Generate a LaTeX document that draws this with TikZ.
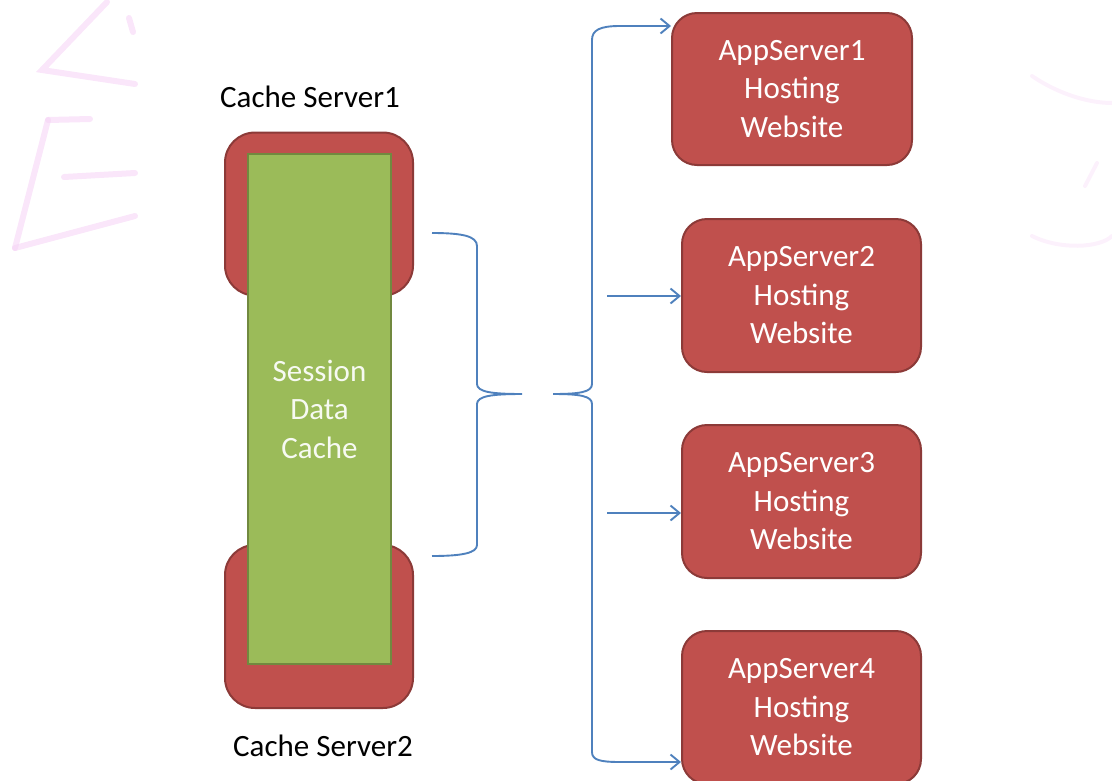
\documentclass[tikz,border=0pt]{standalone}
\usepackage{fontspec}
\setmainfont{Carlito}
\usetikzlibrary{arrows.meta}
\definecolor{boxred}{HTML}{C0504D}
\definecolor{boxredline}{HTML}{8C3A38}
\definecolor{boxgreen}{HTML}{9BBB59}
\definecolor{boxgreenline}{HTML}{71893F}
\definecolor{linkblue}{HTML}{4F81BD}
\definecolor{wmpink}{HTML}{F5D2F5}
\begin{document}
\begin{tikzpicture}[x=1pt,y=-1pt,
  txt/.style={font=\fontsize{31}{38.5}\selectfont, align=center},
  appbox/.style={txt, draw=boxredline, line width=2pt, fill=boxred, rounded corners=25pt,
    text=white, inner sep=0pt, minimum width=239pt, minimum height=153pt},
  cachebox/.style={draw=boxredline, line width=2pt, fill=boxred, rounded corners=30pt,
    inner sep=0pt, minimum width=188pt, minimum height=163pt},
  greenbox/.style={txt, draw=boxgreenline, line width=2.5pt, fill=boxgreen, text=white!92!boxgreen,
    inner sep=0pt, minimum width=143pt, minimum height=510pt},
  label/.style={txt, text=black},
  link/.style={draw=linkblue, line width=1.9pt},
  arrow/.style={link, -{Straight Barb[length=9pt,width=15pt,line width=1.9pt]}},
  wm/.style={draw=wmpink, line width=6pt, line cap=round, opacity=0.55}
]
\useasboundingbox (0,0) rectangle (1112,780);
% faint watermark strokes
\draw[wm] (107,2) -- (42,70) -- (135,84);
\draw[wm] (129,18) -- (133,32);
\draw[wm] (48,120) -- (90,119);
\draw[wm] (48,120) -- (15,248);
\draw[wm] (64,177) -- (135,173);
\draw[wm] (15,248) -- (135,216);
\draw[wm, line width=4pt, opacity=0.3] (1032,76) .. controls (1060,95) and (1090,103) .. (1112,103);
\draw[wm, line width=4pt, opacity=0.3] (1085,186) -- (1097,163);
\draw[wm, line width=4pt, opacity=0.3] (1032,236) .. controls (1060,250) and (1100,248) .. (1112,236);

% cache servers
\node[cachebox] (cs1) at (319,214) {};
\node[cachebox] (cs2) at (319,626.5) {};
\node[greenbox] (cache) at (319.5,409) {Session\\Data\\Cache};
\node[label] (cs1lbl) at (310,97) {Cache Server1};
\node[label] (cs2lbl) at (323,746) {Cache Server2};

% app servers
\node[appbox, minimum width=240pt, minimum height=152pt] (as1) at (792,89) {AppServer1\\Hosting\\Website};
\node[appbox] (as2) at (801.5,295.5) {AppServer2\\Hosting\\Website};
\node[appbox] (as3) at (801.5,501.5) {AppServer3\\Hosting\\Website};
\node[appbox] (as4) at (801.5,707.5) {AppServer4\\Hosting\\Website};

% braces
\coordinate (b1t) at (432,233);
\coordinate (b1b) at (432,556);
\coordinate (b1m) at (522,394);
\coordinate (b2m) at (553,394);
\coordinate (top) at (620,26);
\coordinate (bot) at (620,762);
\coordinate (a2) at (607,296);
\coordinate (a3) at (607,513);

\draw[link] (b1t) .. controls (462,233) and (477,236) .. (477,246) -- (477,384)
  .. controls (477,392) and (492,394) .. (b1m)
  .. controls (492,394) and (477,396) .. (477,404) -- (477,545)
  .. controls (477,553) and (462,556) .. (b1b);
\draw[arrow] (b2m) .. controls (580,394) and (592,392) .. (592,384) -- (592,40)
  .. controls (592,30) and (600,26) .. (top) -- (as1.west |- top);
\draw[arrow] (b2m) .. controls (580,394) and (592,396) .. (592,404) -- (592,752)
  .. controls (592,760) and (600,762) .. (bot) -- (as4.west |- bot);
\draw[arrow] (a2) -- (as2.west |- a2);
\draw[arrow] (a3) -- (as3.west |- a3);
\end{tikzpicture}
\end{document}
